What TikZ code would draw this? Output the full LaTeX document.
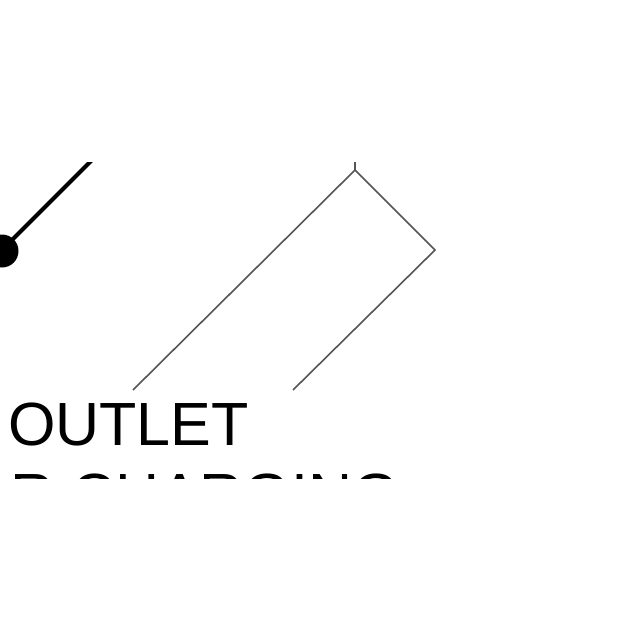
\documentclass[tikz,border=0pt]{standalone}
\usepackage{fontspec}
\setmainfont{Liberation Sans}
\definecolor{wire}{HTML}{555555}
\begin{document}
\begin{tikzpicture}[x=1pt,y=-1pt,
  thin gray/.style={draw=wire,line width=1.6pt,line join=miter},
  label text/.style={font=\fontsize{61}{71}\selectfont,inner sep=0pt,anchor=base west}]
\useasboundingbox (0,0) rectangle (640,640);
\begin{scope}
\clip (0,162) rectangle (640,478);
% thick lever with ball
\draw[line width=4pt] (2,250) -- (120,132);
\fill (2,251) circle (16.5);
% gray outline
\draw[thin gray] (133,390) -- (355,170) -- (435,250) -- (293,390);
\draw[thin gray] (355,170) -- (355,150);
% labels
\node[label text] (l1) at (8,445) {OUTLET};
\node[label text] (l2) at (10,516) {R CHARGING};
\end{scope}
\end{tikzpicture}
\end{document}
